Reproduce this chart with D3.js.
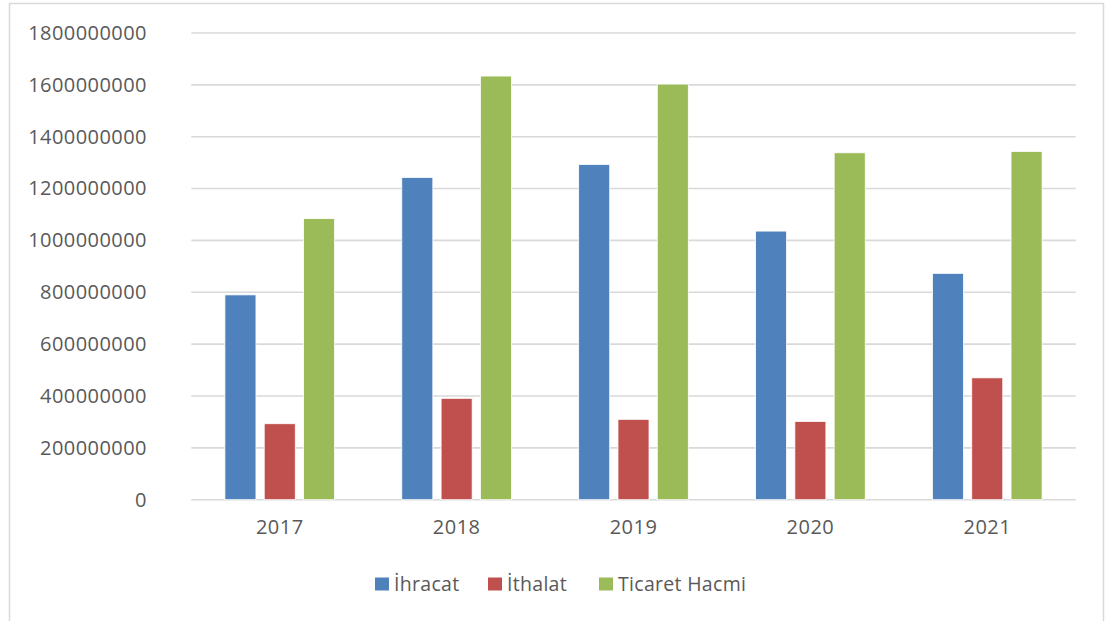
<!DOCTYPE html>
<html>
<head>
<meta charset="utf-8">
<script src="https://cdn.jsdelivr.net/npm/d3@7"></script>
<style>
    body { margin: 0; background: #fff; }
    text { font-family: "Open Sans", sans-serif; fill: #595959; }
</style>
</head>
<body>
<div id="chart"></div>
<script>
// data
const years = ["2017", "2018", "2019", "2020", "2021"];
const seriesNames = ["İhracat", "İthalat", "Ticaret Hacmi"];
const ihracat = [790000000, 1243000000, 1293000000, 1036000000, 873000000];
const ithalat = [293000000, 391000000, 310000000, 302000000, 470000000];
const ticaretHacmi = [1084000000, 1634000000, 1603000000, 1338000000, 1343000000];
const yTicks = [0, 200000000, 400000000, 600000000, 800000000, 1000000000,
    1200000000, 1400000000, 1600000000, 1800000000];
const colors = ["#4F81BD", "#C0504D", "#9BBB59"];

const width = 1105, height = 621;
const margin = {top: 33, right: 29.3, bottom: 121.3, left: 191.3};

let svg = d3.select("#chart").append("svg")
    .attr("width", width)
    .attr("height", height);

// outer chart border
svg.append("rect")
    .attr("x", 9.5)
    .attr("y", 3.5)
    .attr("width", 1094)
    .attr("height", 700)
    .attr("fill", "white")
    .attr("stroke", "#d9d9d9")
    .attr("stroke-width", 1.5)

let x0 = d3.scaleBand()
    .domain(years)
    .range([margin.left, width - margin.right])
    .paddingInner(0.38)
    .paddingOuter(0.19)

let x1 = d3.scaleBand()
    .domain(seriesNames)
    .range([0, x0.bandwidth()])
    .paddingInner(0.21)

let y = d3.scaleLinear()
    .domain([0, 1800000000])
    .range([height - margin.bottom, margin.top])

// gridlines
svg.append("g")
    .selectAll("line")
    .data(yTicks)
    .enter()
    .append("line")
    .attr("x1", margin.left)
    .attr("x2", width - margin.right)
    .attr("y1", d => y(d))
    .attr("y2", d => y(d))
    .attr("stroke", "#d9d9d9")
    .attr("stroke-width", 1.6)

// y axis labels
let yAxis = d3.axisLeft(y).tickValues(yTicks).tickFormat(d3.format("d")).tickSize(0).tickPadding(0)
let yg = svg.append("g")
    .attr("transform", `translate(147,0)`)
    .call(yAxis)
yg.select(".domain").remove()
yg.selectAll("text")
    .attr("font-size", 20)
    .attr("letter-spacing", 0.45)
    .attr("font-family", "Open Sans")
    .attr("fill", "#595959")

// x axis labels
let xAxis = d3.axisBottom(x0).tickSize(0).tickPadding(0)
let xg = svg.append("g")
    .attr("transform", `translate(0,${y(0) + 20})`)
    .call(xAxis)
xg.select(".domain").remove()
xg.selectAll("text")
    .attr("font-size", 20)
    .attr("letter-spacing", 0.45)
    .attr("font-family", "Open Sans")
    .attr("fill", "#595959")

const table = years.map((yr, i) => ({
    year: yr,
    values: [ihracat[i], ithalat[i], ticaretHacmi[i]]
}))

// bars
svg.append("g")
    .selectAll(".group")
    .data(table)
    .enter()
    .append("g")
    .attr("class", "group")
    .attr("transform", d => `translate(${x0(d.year)},0)`)
    .selectAll("rect")
    .data(d => d.values.map((v, j) => ({name: seriesNames[j], value: v, color: colors[j]})))
    .enter()
    .append("rect")
    .attr("x", d => x1(d.name))
    .attr("y", d => y(d.value))
    .attr("width", x1.bandwidth())
    .attr("height", d => y(0) - y(d.value))
    .attr("fill", d => d.color)
    .attr("stroke", "white")
    .attr("stroke-width", 0.8)

// legend
const legendX = [375, 488, 599];
let legend = svg.append("g")
    .selectAll(".legend")
    .data(seriesNames)
    .enter()
    .append("g")
    .attr("class", "legend")
    .attr("transform", (d, i) => `translate(${legendX[i]},577.5)`)

legend.append("rect")
    .attr("width", 14)
    .attr("height", 13)
    .attr("fill", (d, i) => colors[i])

legend.append("text")
    .text(d => d)
    .attr("x", 19)
    .attr("y", 6.5)
    .attr("dy", "0.35em")
    .attr("font-size", 19.5)
    .attr("letter-spacing", 0.3)
</script>
</body>
</html>
